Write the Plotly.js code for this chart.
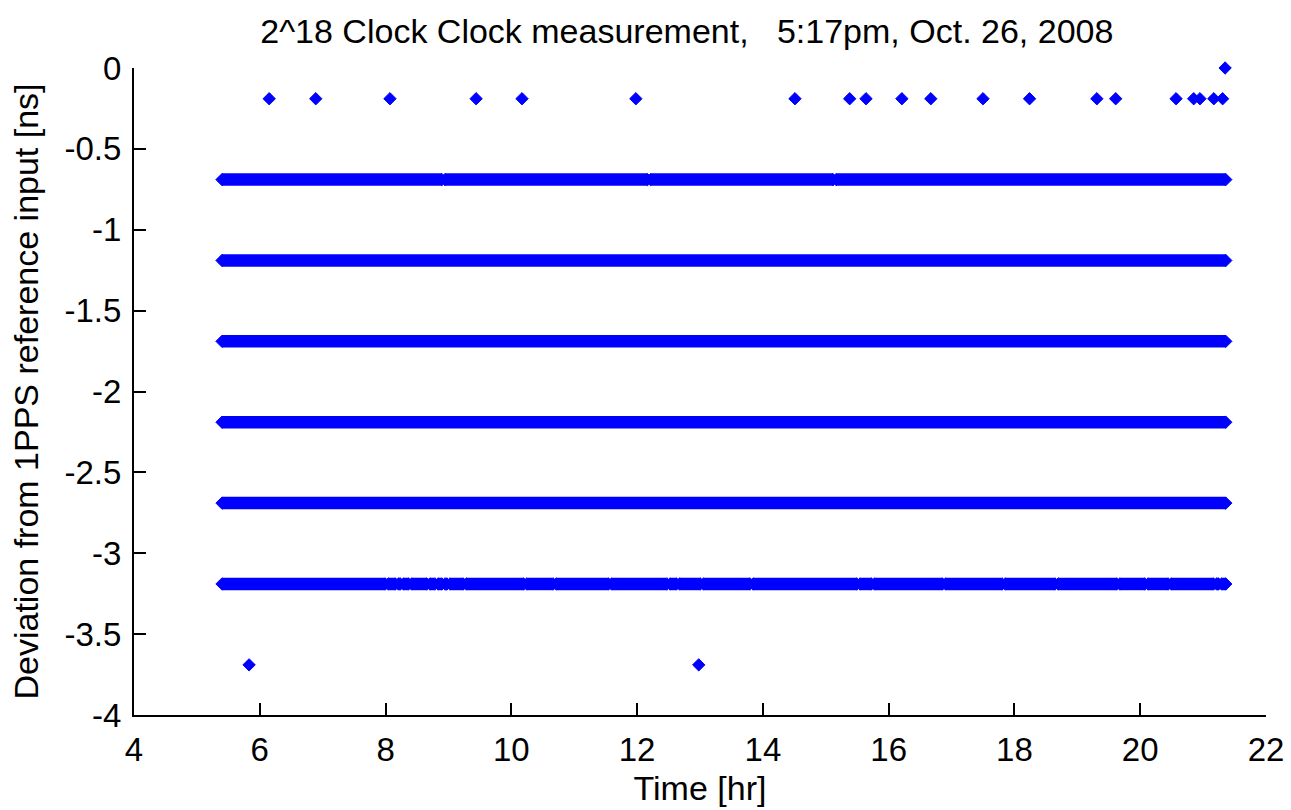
<!DOCTYPE html>
<html>
<head>
<meta charset="utf-8">
<script src="https://cdn.plot.ly/plotly-3.0.1.min.js"></script>
<style>html,body{margin:0;padding:0;background:#fff;}#chart{width:1291px;height:810px;}</style>
</head>
<body>
<div id="chart"></div>
<script>
// ---- data ----
const bandLevels = [-0.69, -1.19, -1.69, -2.19, -2.69, -3.19];
const bandStart = 5.40;
const bandEnd = 21.36;
// places where the dense run of samples shows a small gap (hr), one list per band
const bandGaps = [
  [8.92, 12.19, 15.14],
  [],
  [],
  [],
  [],
  [8.02, 8.18, 8.26, 8.39, 8.68, 8.81, 8.92, 9.00, 9.26, 10.22, 10.69, 11.57, 12.50, 12.65,
   13.03, 13.82, 15.52, 15.75, 16.88, 17.83, 18.67, 19.65, 20.10, 20.47, 21.19, 21.27]
];
const topOutlierX = [6.15, 6.89, 8.07, 9.44, 10.17, 11.98, 14.51, 15.38, 15.64, 16.21, 16.67,
                     17.50, 18.24, 19.31, 19.61, 20.57, 20.85, 20.95, 21.17, 21.31];
const topOutlierY = -0.19;
const zeroPointX = [21.35];
const zeroPointY = [0];
const lowOutlierX = [5.83, 12.98];
const lowOutlierY = -3.69;

const xTickVals = [4, 6, 8, 10, 12, 14, 16, 18, 20, 22];
const xTickText = ['4', '6', '8', '10', '12', '14', '16', '18', '20', '22'];
const yTickVals = [0, -0.5, -1, -1.5, -2, -2.5, -3, -3.5, -4];
const yTickText = ['0', '-0.5', '-1', '-1.5', '-2', '-2.5', '-3', '-3.5', '-4'];

// ---- build traces ----
const BLUE = '#0000ff';
const halfGap = 0.025;
const marker = {symbol: 'diamond', size: 9.5, color: BLUE, line: {color: BLUE, width: 1}};
const traces = [];

bandLevels.forEach((lvl, i) => {
  const xs = [bandStart];
  bandGaps[i].forEach(g => { xs.push(g - halfGap, null, g + halfGap); });
  xs.push(bandEnd);
  const ys = xs.map(v => v === null ? null : lvl);
  traces.push({
    type: 'scatter', mode: 'lines+markers', x: xs, y: ys,
    line: {color: BLUE, width: 12.5}, marker: marker, connectgaps: false,
    cliponaxis: false, hoverinfo: 'skip', showlegend: false
  });
});

traces.push({
  type: 'scatter', mode: 'markers', x: topOutlierX, y: topOutlierX.map(() => topOutlierY),
  marker: marker, cliponaxis: false, hoverinfo: 'skip', showlegend: false
});
traces.push({
  type: 'scatter', mode: 'markers', x: zeroPointX, y: zeroPointY,
  marker: marker, cliponaxis: false, hoverinfo: 'skip', showlegend: false
});
traces.push({
  type: 'scatter', mode: 'markers', x: lowOutlierX, y: lowOutlierX.map(() => lowOutlierY),
  marker: marker, cliponaxis: false, hoverinfo: 'skip', showlegend: false
});

const FONT = {family: 'Liberation Sans, Arial, sans-serif', size: 34, color: '#000'};
const TICKFONT = {family: 'Liberation Sans, Arial, sans-serif', size: 33, color: '#000'};

const layout = {
  width: 1291, height: 810,
  paper_bgcolor: '#fff', plot_bgcolor: '#fff',
  margin: {l: 134, r: 25, t: 68, b: 95, pad: 0},
  font: FONT,
  showlegend: false,
  hovermode: false,
  title: {
    text: '2^18 Clock Clock measurement,&nbsp;&nbsp; 5:17pm, Oct. 26, 2008',
    font: FONT, xref: 'container', x: 0.532, xanchor: 'center',
    yref: 'container', y: 0.962, yanchor: 'middle'
  },
  xaxis: {
    range: [4, 22], tickmode: 'array', tickvals: xTickVals, ticktext: xTickText,
    ticks: 'inside', ticklen: 12, tickwidth: 2, tickcolor: '#000',
    showline: true, linecolor: '#000', linewidth: 2, mirror: false,
    showgrid: false, zeroline: false, tickfont: TICKFONT, ticklabelstandoff: 4,
    title: {text: 'Time [hr]', font: FONT, standoff: 10}, automargin: false
  },
  yaxis: {
    range: [-4, 0], tickmode: 'array', tickvals: yTickVals, ticktext: yTickText,
    ticks: 'inside', ticklen: 12, tickwidth: 2, tickcolor: '#000',
    showline: true, linecolor: '#000', linewidth: 2, mirror: false,
    showgrid: false, zeroline: false, tickfont: TICKFONT, ticklabelstandoff: 4,
    title: {text: 'Deviation from 1PPS reference input [ns]', font: FONT, standoff: 16}, automargin: false
  }
};

Plotly.newPlot('chart', traces, layout, {staticPlot: true, displayModeBar: false});
</script>
</body>
</html>
